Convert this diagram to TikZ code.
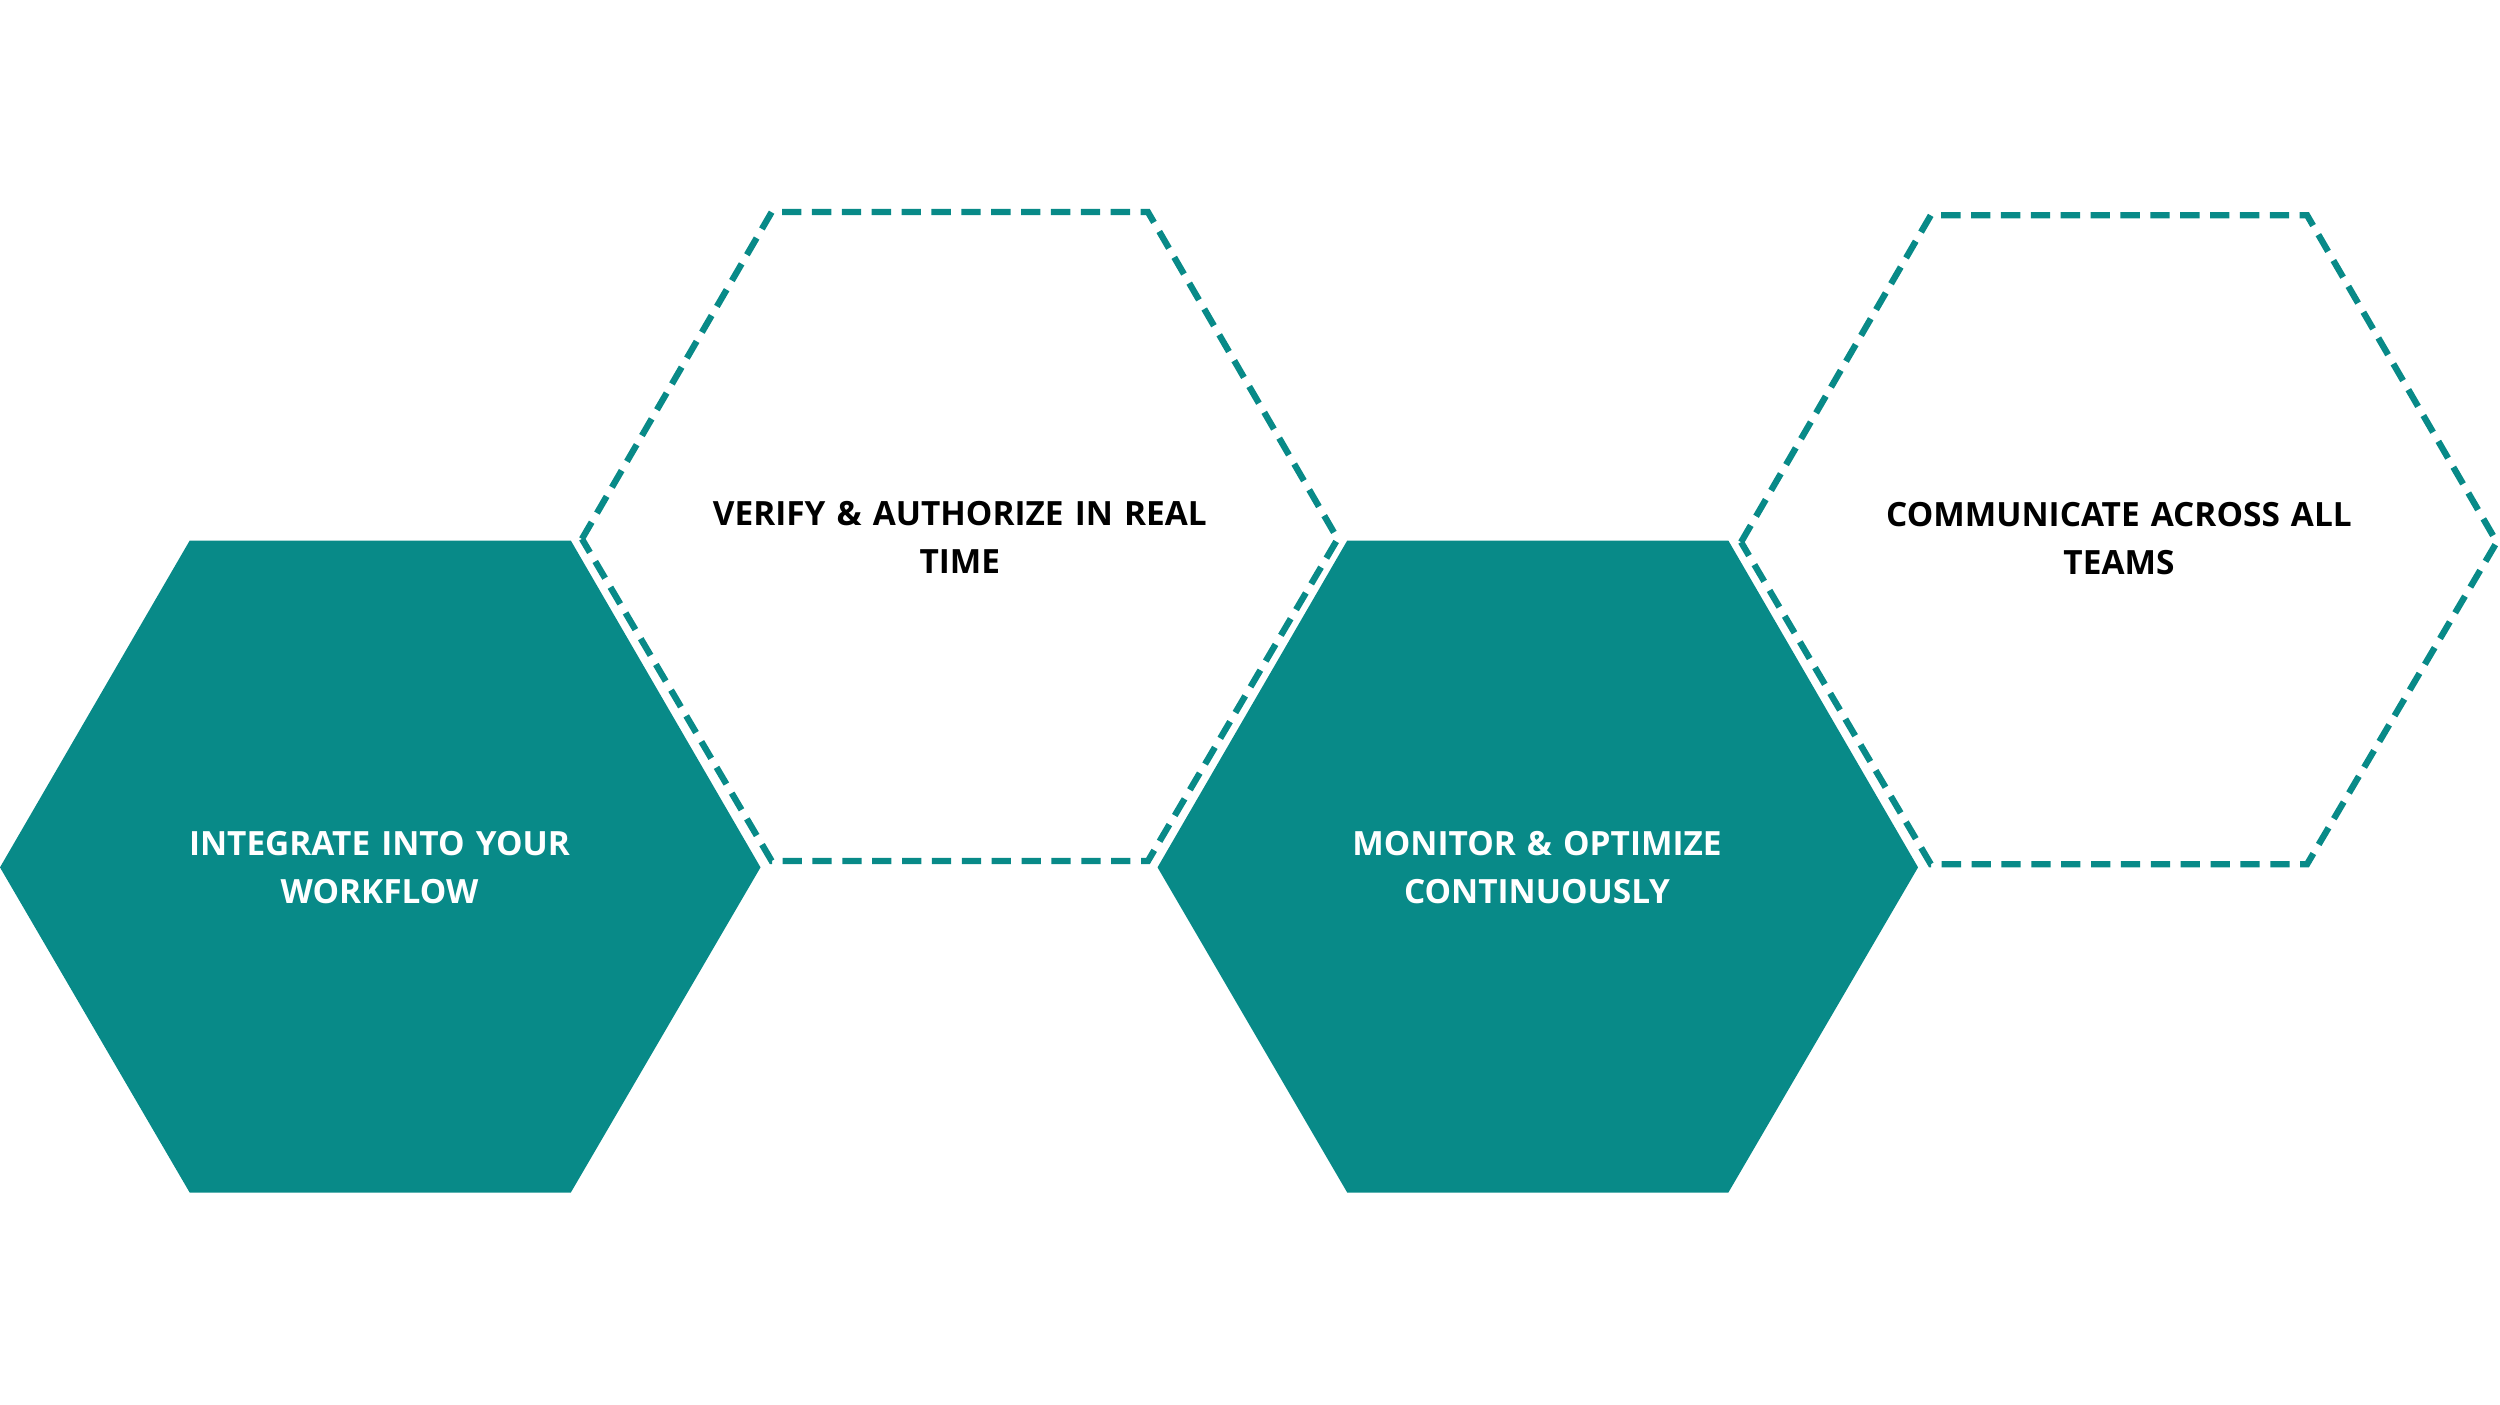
\documentclass[tikz,border=0pt]{standalone}
\usepackage{fontspec}
\setmainfont{Open Sans}
\usetikzlibrary{positioning}
\definecolor{teal1}{HTML}{088A88}
\tikzset{
  solidhex/.style={fill=teal1, draw=none},
  dashhex/.style={draw=teal1, line width=1.8pt, dash pattern=on 5.5pt off 3pt},
  hexlabel/.style={align=center, text width=5.3cm, font=\fontsize{9.5}{13.6}\selectfont\bfseries}
}
\begin{document}
\begin{tikzpicture}[x={(0.01594cm,0)}, y={(0,-0.01594cm)}]
\useasboundingbox (0,0) rectangle (1568,881);
% centres of hexagons
\coordinate (h1) at (238,544);
\coordinate (h2) at (602,337);
\coordinate (h3) at (964,544);
\coordinate (h4) at (1329,338);
% draws filled hexagons
\fill[solidhex] (0,544) -- (119,339) -- (358,339) -- (477,544) -- (358,748) -- (119,748) -- cycle;
\fill[solidhex] (726,544) -- (845,339) -- (1084,339) -- (1203,544) -- (1084,748) -- (845,748) -- cycle;
% draws dashed hexagons
\draw[dashhex] (365,338) -- (484,133) -- (720,133) -- (839,338) -- (720,540) -- (484,540) -- cycle;
\draw[dashhex] (1092,340) -- (1211,135) -- (1447,135) -- (1566,340) -- (1447,542) -- (1211,542) -- cycle;
% labels hexagons
\node[hexlabel, text=white] (t1) at (h1) {INTEGRATE INTO YOUR\\WORKFLOW};
\node[hexlabel, text=black] (t2) at (h2) {VERIFY \& AUTHORIZE IN REAL\\TIME};
\node[hexlabel, text=white] (t3) at (h3) {MONITOR \& OPTIMIZE\\CONTINUOUSLY};
\node[hexlabel, text=black] (t4) at (h4) {COMMUNICATE ACROSS ALL\\TEAMS};
\end{tikzpicture}
\end{document}
